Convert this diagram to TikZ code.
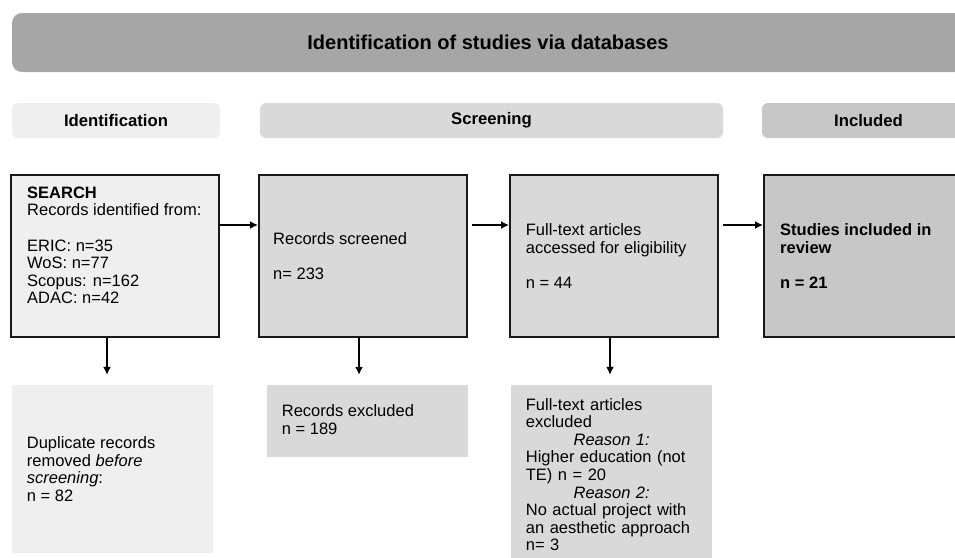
\documentclass[tikz,border=0pt]{standalone}
\usepackage{fontspec}
\setmainfont{Liberation Sans}
\usetikzlibrary{arrows.meta}
\definecolor{cTitle}{HTML}{A6A6A6}
\definecolor{cLight}{HTML}{EFEFEF}
\definecolor{cMid}{HTML}{D9D9D9}
\definecolor{cDark}{HTML}{C7C7C7}
\begin{document}
\begin{tikzpicture}[x=1pt,y=-1pt,
  every node/.style={font=\fontsize{16.5}{17.6}\selectfont},
  banner/.style={rectangle, rounded corners=10pt, fill=cTitle, inner sep=0pt,
    font=\fontsize{20}{24}\selectfont\bfseries},
  phase/.style={rectangle, rounded corners=6pt, inner sep=0pt, minimum height=35pt,
    font=\fontsize{16.7}{20}\selectfont\bfseries},
  mainbox/.style={rectangle, draw=black!90, line width=2pt, minimum width=208pt,
    minimum height=162pt, inner sep=0pt},
  subbox/.style={rectangle, inner sep=0pt, minimum width=201pt},
  txt/.style={inner sep=0pt, align=left, anchor=west},
  arr/.style={line width=1.5pt, draw=black, -{Latex[length=8pt,width=8pt]}},
]
\path[use as bounding box, clip] (0,0) rectangle (955,557);
\fill[white] (0,0) rectangle (955,557);

% title banner and phase headers
\node[banner, minimum width=952pt, minimum height=59pt] (title) at (488,42.5)
  {Identification of studies via databases};
\node[phase, fill=cLight, minimum width=208pt] (phId) at (116,120.5) {Identification};
\node[phase, fill=cMid, minimum width=463pt] (phSc) at (491.5,120.5) {Screening};
\node[phase, fill=cDark, minimum width=213pt] (phIn) at (868.5,120.5) {Included};

% main boxes
\node[mainbox, fill=cLight] (search) at (115,256) {};
\node[mainbox, fill=cMid] (screened) at (363,256) {};
\node[mainbox, fill=cMid] (fulltext) at (614,256) {};
\node[mainbox, fill=cDark] (studies) at (868,256) {};

\node[txt] (searchT) at (27,245.5) {\textbf{SEARCH}\\Records identified from:\\[17.6pt]
  ERIC: n=35\\WoS: n=77\\Scopus: n=162\\ADAC: n=42};
\node[txt] (screenedT) at (273,255.7) {Records screened\\[17.6pt]n= 233};
\node[txt] (fulltextT) at (525.7,256) {Full-text articles\\accessed for eligibility\\[17.6pt]n = 44};
\node[txt, font=\fontsize{16.5}{17.6}\selectfont\bfseries] (studiesT) at (780,256)
  {Studies included in\\review\\[17.6pt]n = 21};

% lower boxes
\node[subbox, fill=cLight, minimum height=168pt] (dup) at (112.5,469) {};
\node[subbox, fill=cMid, minimum height=72pt] (excl) at (367.5,421) {};
\node[subbox, fill=cMid, minimum height=195pt] (ftexcl) at (611.5,482.5) {};

\node[txt] (dupT) at (26.7,469) {Duplicate records\\removed \textit{before}\\\textit{screening}:\\n = 82};
\node[txt] (exclT) at (281.7,419.7) {Records excluded\\n = 189};
\node[inner sep=0pt, anchor=north west, text width=171.6pt, align=left] (ftexclT) at (525.7,398)
  {Full-text articles\\excluded\\
   \hfill\textit{Reason 1:}\hfill\mbox{}\\
   Higher education (not\\TE) n = 20\\
   \hfill\textit{Reason 2:}\hfill\mbox{}\\
   No actual project with\\an aesthetic approach\\n= 3};

% horizontal connectors
\draw[arr] ([yshift=31pt]search.east) -- ([yshift=31pt]screened.west);
\draw[arr, shorten <=4pt] ([yshift=31pt]screened.east) -- ([yshift=31pt]fulltext.west);
\draw[arr, shorten <=4pt] ([yshift=31pt]fulltext.east) -- ([yshift=31pt]studies.west);

% vertical connectors
\coordinate (sA) at ([xshift=-8pt]search.south);
\coordinate (sB) at ([xshift=-4pt]screened.south);
\coordinate (sC) at ([xshift=-4pt]fulltext.south);
\draw[arr, shorten >=10pt] (sA) -- (sA |- dup.north);
\draw[arr, shorten >=10pt] (sB) -- (sB |- excl.north);
\draw[arr, shorten >=10pt] (sC) -- (sC |- ftexcl.north);
\end{tikzpicture}
\end{document}
